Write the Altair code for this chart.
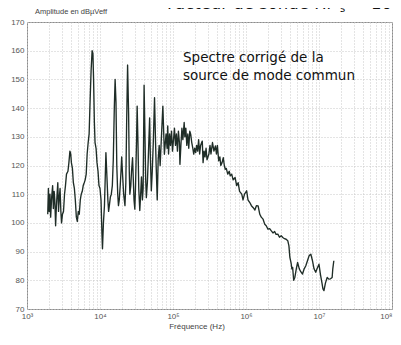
import altair as alt
import pandas as pd

# log10 of frequency (Hz)
log_freq = [
    3.284, 3.293, 3.304, 3.315, 3.324, 3.338, 3.351, 3.361, 3.372, 3.381,
    3.392, 3.403, 3.412, 3.422, 3.432, 3.443, 3.453, 3.464, 3.473, 3.486,
    3.500, 3.514, 3.527, 3.541, 3.561, 3.574, 3.588, 3.599, 3.608, 3.622,
    3.635, 3.649, 3.662, 3.676, 3.689, 3.703, 3.716, 3.730, 3.743, 3.757,
    3.770, 3.784, 3.797, 3.811, 3.824, 3.838, 3.851, 3.865, 3.878, 3.892,
    3.903, 3.912, 3.923, 3.932, 3.946, 3.959, 3.973, 3.986, 4.000, 4.014,
    4.027, 4.034, 4.047, 4.061, 4.072, 4.081, 4.095, 4.108, 4.118, 4.128,
    4.142, 4.155, 4.169, 4.182, 4.196, 4.207, 4.219, 4.230, 4.243, 4.253,
    4.264, 4.277, 4.288, 4.297, 4.311, 4.324, 4.342, 4.354, 4.365, 4.378,
    4.392, 4.401, 4.409, 4.422, 4.432, 4.446, 4.455, 4.466, 4.477, 4.486,
    4.500, 4.509, 4.520, 4.531, 4.545, 4.557, 4.568, 4.581, 4.591, 4.604,
    4.615, 4.626, 4.635, 4.649, 4.662, 4.680, 4.689, 4.703, 4.716, 4.730,
    4.747, 4.761, 4.770, 4.784, 4.797, 4.811, 4.824, 4.838, 4.861, 4.872,
    4.882, 4.892, 4.905, 4.919, 4.928, 4.939, 4.953, 4.966, 4.980, 4.993,
    5.007, 5.020, 5.034, 5.047, 5.061, 5.074, 5.088, 5.095, 5.108, 5.122,
    5.135, 5.153, 5.162, 5.176, 5.189, 5.203, 5.216, 5.230, 5.243, 5.257,
    5.270, 5.284, 5.297, 5.311, 5.324, 5.338, 5.351, 5.365, 5.378, 5.401,
    5.412, 5.426, 5.439, 5.453, 5.466, 5.491, 5.507, 5.520, 5.541, 5.561,
    5.581, 5.595, 5.608, 5.626, 5.642, 5.655, 5.672, 5.689, 5.703, 5.716,
    5.730, 5.750, 5.770, 5.784, 5.804, 5.824, 5.851, 5.872, 5.892, 5.912,
    5.942, 5.959, 5.980, 6.009, 6.027, 6.054, 6.074, 6.099, 6.122, 6.142,
    6.166, 6.189, 6.209, 6.234, 6.257, 6.277, 6.301, 6.324, 6.347, 6.369,
    6.392, 6.412, 6.436, 6.459, 6.482, 6.504, 6.527, 6.550, 6.572, 6.588,
    6.601, 6.618, 6.628, 6.639, 6.653, 6.669, 6.689, 6.707, 6.730, 6.750,
    6.774, 6.797, 6.818, 6.842, 6.865, 6.888, 6.909, 6.932, 6.955, 6.973,
    7.000, 7.020, 7.041, 7.054, 7.068, 7.088, 7.112, 7.135, 7.158, 7.180,
    7.189, 7.203,
]

# amplitude in dBuV eff
amplitude_db = [
    103, 112, 104, 110, 102, 109, 113, 105, 111, 108,
    99, 106, 110, 114, 104, 109, 112, 104, 100, 103,
    104, 110, 113, 117, 118, 121, 125, 124, 121, 119,
    114, 112, 108, 102, 100.5, 104, 103, 108, 110, 111,
    113, 114, 115, 117, 124, 128, 131, 143, 153, 160,
    159, 150, 135, 128, 126, 121, 118, 113, 112, 108,
    96, 91, 100, 106, 116, 124.5, 116, 108, 104, 106,
    109, 110, 113, 122, 140, 150, 142, 120, 110, 106,
    108, 113, 118, 123, 116, 110, 106, 114, 135, 155,
    138, 118, 110, 113, 118, 122.7, 116, 108, 104.8, 112,
    128, 140.7, 128, 112, 104.3, 110, 116, 108, 112, 148,
    132, 115, 108.8, 114, 123, 136.6, 124, 111.2, 118, 128,
    143.6, 128, 119.3, 108, 122, 127, 120, 128, 140.7, 132,
    123.9, 127, 131, 126, 133.8, 124, 131, 127, 132, 125,
    129, 133, 127, 131, 125, 132, 128, 120.4, 127, 133,
    129, 135, 130, 133, 127, 131, 126, 132, 130.8, 128,
    126.2, 124, 126, 124.5, 127, 125, 129, 124, 127, 128.5,
    121, 125, 123, 126, 122, 123.9, 127, 124, 128, 125,
    126.8, 124, 127, 121.6, 123, 120, 121, 122.7, 120, 118.7,
    119, 117, 118, 116.4, 117, 115, 115.8, 113, 114, 111,
    110, 108, 110, 111.2, 108, 107, 106, 105.3, 104.5, 106,
    105.9, 103, 102, 101.3, 99.5, 99, 97.8, 98, 97.2, 96.5,
    97, 96, 96.1, 95, 95.5, 94.9, 94.5, 94.3, 93.8, 92,
    88, 86, 84, 84.5, 80, 81, 84, 86.2, 84, 83,
    82.2, 84, 85, 86.8, 88.6, 89.1, 87, 84, 82.8, 84,
    85.6, 82, 79, 77, 76.4, 79, 81, 80.4, 80.5, 81,
    84, 86.8,
]

y_ticks = [70, 80, 90, 100, 110, 120, 130, 140, 150, 160, 170]
decades = [3, 4, 5, 6, 7]
multiples = [1, 2, 3, 4, 5, 6, 7, 8, 9]
x_grid = [m * 10 ** d for d in decades for m in multiples] + [10 ** 8]

df = pd.DataFrame({"freq": [10 ** v for v in log_freq], "amp": amplitude_db})

label_font = "Liberation Sans"

x_axis = alt.Axis(
    values=x_grid,
    labelExpr="abs(log(datum.value)/LN10 - round(log(datum.value)/LN10)) < 0.01 ? "
              "'10' + ['','','','³','⁴','⁵','⁶','⁷','⁸'][round(log(datum.value)/LN10)] : ''",
    labelAlign={"condition": {"test": "datum.value > 5e7", "value": "right"}, "value": "center"},
    title=None, grid=True, gridDash=[1, 2], gridColor="#c8c8c8", gridWidth=1,
    ticks=False, domain=False, labelFont=label_font, labelFontSize=8,
    labelColor="#555555", labelPadding=3, labelFlush=False, labelOverlap=False,
)
y_axis = alt.Axis(
    values=y_ticks, title=None, grid=True, gridDash=[1, 2], gridColor="#c8c8c8",
    gridWidth=1, ticks=False, domain=False, labelFont=label_font, labelFontSize=8,
    labelColor="#555555", labelPadding=3,
)

line = alt.Chart(df).mark_line(color="#1f2d27", strokeWidth=1.35, strokeJoin="round").encode(
    x=alt.X("freq:Q", scale=alt.Scale(type="log", domain=[1e3, 1e8]), axis=x_axis),
    y=alt.Y("amp:Q", scale=alt.Scale(domain=[70, 170], nice=False, zero=False), axis=y_axis),
)


def label(text, x, y, size, font, color, baseline="middle", align="left"):
    return alt.Chart(pd.DataFrame({"t": [text]})).mark_text(
        align=align, baseline=baseline, font=font, fontSize=size, color=color
    ).encode(x=alt.value(x), y=alt.value(y), text="t:N")


texts = [
    label("Amplitude en dBµVeff", 8, -10.5, 7.5, label_font, "#444444"),
    label("Fréquence (Hz)", 170, 305, 8, label_font, "#444444", align="center"),
    label("Spectre corrigé de la", 156, 36, 13.5, "DejaVu Sans", "#111111"),
    label("source de mode commun", 156, 54, 13.5, "DejaVu Sans", "#111111"),
    label("Facteur de sonde Hr", 140, -13, 16.5, "DejaVu Sans", "#111111", baseline="alphabetic"),
    label("s", 313, -10, 10, "DejaVu Sans", "#111111", baseline="alphabetic"),
    label("= 10", 365, -13, 16.5, "DejaVu Sans", "#111111", baseline="alphabetic", align="right"),
]

chart = alt.layer(line, *texts).properties(
    width=365,
    height=287,
    padding={"left": 19, "top": 14, "right": 1, "bottom": 23},
    autosize=alt.AutoSizeParams(type="none"),
).configure_view(stroke="#8c8c8c", strokeWidth=1)

chart.save("out.html", embed_options={"renderer": "svg", "actions": False})
